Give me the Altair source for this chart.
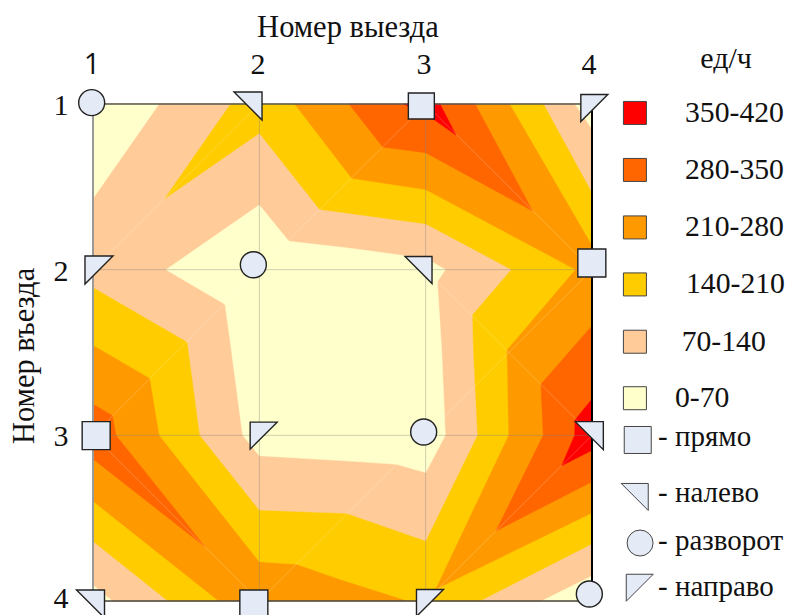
import altair as alt
import pandas as pd

# Contour bands: colours and polygons, in matrix units (exit number, entry number)
C_RED, C_DORANGE, C_ORANGE, C_YELLOW, C_PEACH, C_PALE = "#FF0000", "#FF6600", "#FF9900", "#FFCC00", "#FFCC99", "#FFFFCC"

base_square = [[(1, 1), (4, 1), (4, 4), (1, 4)]]

below_210 = [
    [(1, 1), (2.21, 1), (2.555, 1.451), (3, 1.519), (3.898, 2), (3.487, 2.485), (3.497, 3), (3.056, 3.933),
     (4, 3.471), (4, 4), (2.896, 4), (2.485, 3.869), (2.225, 3.778), (2, 3.763), (1.399, 3), (1.343, 2.656), (1, 2.455)],
    [(3.507, 1), (4, 1), (4, 1.851)],
    [(1, 3.4), (1.753, 4), (1, 4)],
]
below_140 = [
    [(1, 1), (1.824, 1), (1.423, 1.579), (2, 1.179), (2.361, 1.638), (2.515, 1.66), (3, 1.726), (3.513, 2),
     (3.279, 2.274), (3.286, 2.515), (3.31, 3), (3, 3.636), (2.525, 3.471), (2, 3.451), (1.643, 3),
     (1.568, 2.437), (1, 2.106)],
    [(3.711, 1), (4, 1), (4, 1.533)],
    [(1, 3.642), (1.447, 4), (1, 4)],
    [(3.331, 4), (4, 3.658), (4, 4)],
]
below_70 = [
    [(1.439, 2), (2, 1.61), (2.177, 1.829), (2.545, 1.871), (2.876, 1.916), (3, 1.93), (3.118, 2), (3.07, 2.073),
     (3.096, 2.485), (3.118, 3), (3, 3.225), (2.826, 3.175), (2.545, 3.155), (2, 3.123), (1.9, 3),
     (1.828, 2.455), (1.794, 2.209)],
    [(1, 1), (1.397, 1), (1, 1.57)],
    [(4, 1), (4, 1.151), (3.898, 1)],
    [(1, 4), (1, 3.903), (1.116, 4)],
    [(3.698, 4), (4, 3.849), (4, 4)],
]
above_280 = [
    [(2.539, 1), (2.742, 1.26), (3, 1.294), (3.643, 1.646), (3.297, 1)],
    [(4, 2.338), (3.693, 2.692), (3.707, 3), (3.423, 3.577), (4, 3.28)],
    [(1, 2.813), (1.116, 2.881), (1.138, 3), (1.673, 3.672), (1, 3.143)],
]
above_350 = [
    [(2.87, 1), (3.086, 1), (3.182, 1.187), (3.054, 1.097), (2.936, 1.04)],
    [(4, 2.781), (3.898, 2.907), (3.896, 3), (3.818, 3.183), (4, 3.09)],
]
paint_order = [
    (C_ORANGE, base_square), (C_YELLOW, below_210), (C_PEACH, below_140),
    (C_PALE, below_70), (C_DORANGE, above_280), (C_RED, above_350),
]

# Mesh diagonals of the surface
diagonals = [
    (2, 1, 1, 2), (3, 1, 2, 2), (3, 1, 4, 2), (4, 2, 3, 3), (3, 2, 4, 3), (2, 2, 1, 3),
    (1, 3, 2, 4), (3, 3, 2, 4), (4, 3, 3, 4),
]

# Turn markers
SQUARE = "M-1,-1L1,-1L1,1L-1,1Z"
LEFT = "M-1,-1L1,-1L1,1Z"
RIGHT = "M-1,-1L1,-1L-1,1Z"
CIRCLE = "circle"

marker_x = [0.992, 1.932, 2.974, 4.014, 1.036, 1.964, 2.957, 3.999, 1.019, 2.026, 2.988, 3.984, 0.985, 1.967, 3.026, 3.984]
marker_y = [0.992, 1.012, 1.012, 1.024, 2.002, 1.97, 2.002, 1.96, 3.002, 3.002, 2.98, 3.002, 4.018, 4.018, 4.012, 3.958]
marker_shape = [CIRCLE, LEFT, SQUARE, RIGHT, RIGHT, CIRCLE, LEFT, SQUARE, SQUARE, RIGHT, CIRCLE, LEFT, LEFT, SQUARE, RIGHT, CIRCLE]
marker_side = [26, 28, 26, 27, 28, 26, 27, 28, 28, 27, 26, 28, 28, 28, 27, 26]

# Legends
band_labels = ["350-420", "280-350", "210-280", "140-210", "70-140", "0-70"]
band_colors = [C_RED, C_DORANGE, C_ORANGE, C_YELLOW, C_PEACH, C_PALE]
band_y = [1.054, 1.398, 1.745, 2.089, 2.435, 2.776]
band_label_x = [4.559, 4.559, 4.559, 4.565, 4.539, 4.499]
SWATCH_X = 4.258

turn_labels = ["- прямо", "- налево", "- разворот", "- направо"]
turn_shapes = [SQUARE, LEFT, CIRCLE, RIGHT]
turn_x = [4.275, 4.257, 4.289, 4.287]
turn_y = [3.028, 3.372, 3.65, 3.92]
turn_label_y = [3.01, 3.348, 3.638, 3.915]
TURN_LABEL_X = 4.397

tick_values = [1, 2, 3, 4]
top_tick_x = [0.994, 1.992, 2.99, 3.982]
left_tick_y = [1.012, 2.014, 3.01, 3.99]

FONT = "Liberation Serif"
FS = 30
X = alt.X("x:Q", scale=alt.Scale(domain=[1, 4], nice=False, zero=False), axis=None)
Y = alt.Y("y:Q", scale=alt.Scale(domain=[1, 4], nice=False, zero=False, reverse=True), axis=None)
X2, Y2 = alt.X2("x2:Q"), alt.Y2("y2:Q")

layers = []

for color, polygons in paint_order:
    rows = []
    for p, poly in enumerate(polygons):
        for i, (a, b) in enumerate(poly):
            rows.append({"poly": p, "i": i, "x": a, "y": b})
    layers.append(
        alt.Chart(pd.DataFrame(rows)).mark_line(fill=color, stroke=color, strokeWidth=0.5, interpolate="linear-closed")
        .encode(x=X, y=Y, order="i:Q", detail="poly:N")
    )


def segs(items, color, width, opacity=1.0):
    df = pd.DataFrame(items, columns=["x", "y", "x2", "y2"])
    return alt.Chart(df).mark_rule(color=color, strokeWidth=width, opacity=opacity).encode(x=X, y=Y, x2=X2, y2=Y2)


layers.append(segs(diagonals, "#FFFFFF", 1, 0.22))
layers.append(segs([(2, 1, 2, 4), (3, 1, 3, 4), (1, 2, 4, 2), (1, 3, 4, 3)], "#7F7F7F", 1, 0.38))
layers.append(segs([(1, 1, 1, 4)], "#9A9A9A", 2))
layers.append(segs([(1, 1, 4, 1)], "#555555", 1.5))
layers.append(segs([(4, 1, 4, 4)], "#000000", 2))
layers.append(segs([(1, 4, 4, 4)], "#444444", 1.5))


def points(xs, ys, shapes, sides, stroke, width):
    out = []
    for a, b, s, d in zip(xs, ys, shapes, sides):
        df = pd.DataFrame({"x": [a], "y": [b]})
        out.append(alt.Chart(df).mark_point(shape=s, size=d * d, filled=True, fill="#E4EBF6", stroke=stroke,
                                            strokeWidth=width, opacity=1).encode(x=X, y=Y))
    return out


layers += points(marker_x, marker_y, marker_shape, marker_side, "#222222", 1.4)
layers += points(turn_x, turn_y, turn_shapes, [27, 27, 26, 27], "#444444", 1)

swatches = pd.DataFrame({"x": [SWATCH_X] * 6, "y": band_y, "c": band_colors})
layers.append(alt.Chart(swatches).mark_point(shape="square", size=23 * 23, filled=True, stroke="#444444", strokeWidth=1, opacity=1)
              .encode(x=X, y=Y, fill=alt.Fill("c:N", scale=None)))


def text(xs, ys, labels, align="left", size=FS, font=FONT, angle=None):
    df = pd.DataFrame({"x": xs, "y": ys, "t": labels})
    kw = {"angle": angle} if angle is not None else {}
    return alt.Chart(df).mark_text(font=font, fontSize=size, align=align, baseline="middle", color="#111111", **kw).encode(x=X, y=Y, text="t:N")


layers.append(text(band_label_x, band_y, band_labels, size=29.7))
layers.append(text([TURN_LABEL_X] * 4, turn_label_y, turn_labels, size=29))
layers.append(text([4.806], [0.728], ["ед/ч"], "center"))
layers.append(text([2.533], [0.541], ["Номер выезда"], "center", size=30.5))
layers.append(text([top_tick_x[0]], [0.765], [str(tick_values[0])], "center", 29, "Open Sans"))
layers.append(text(top_tick_x[1:], [0.765] * 3, [str(v) for v in tick_values[1:]], "center"))
layers.append(text([0.808] * 4, left_tick_y, [str(v) for v in tick_values], "center"))
layers.append(text([0.59], [2.521], ["Номер въезда"], "center", size=30.5, angle=270))

chart = alt.layer(*layers).properties(
    width=499, height=497,
    padding={"left": 85, "top": 96, "right": 193, "bottom": 14},
    autosize=alt.AutoSizeParams(type="none"),
).configure_view(stroke=None)

chart.save("out.html", embed_options={"renderer": "svg", "actions": False})
